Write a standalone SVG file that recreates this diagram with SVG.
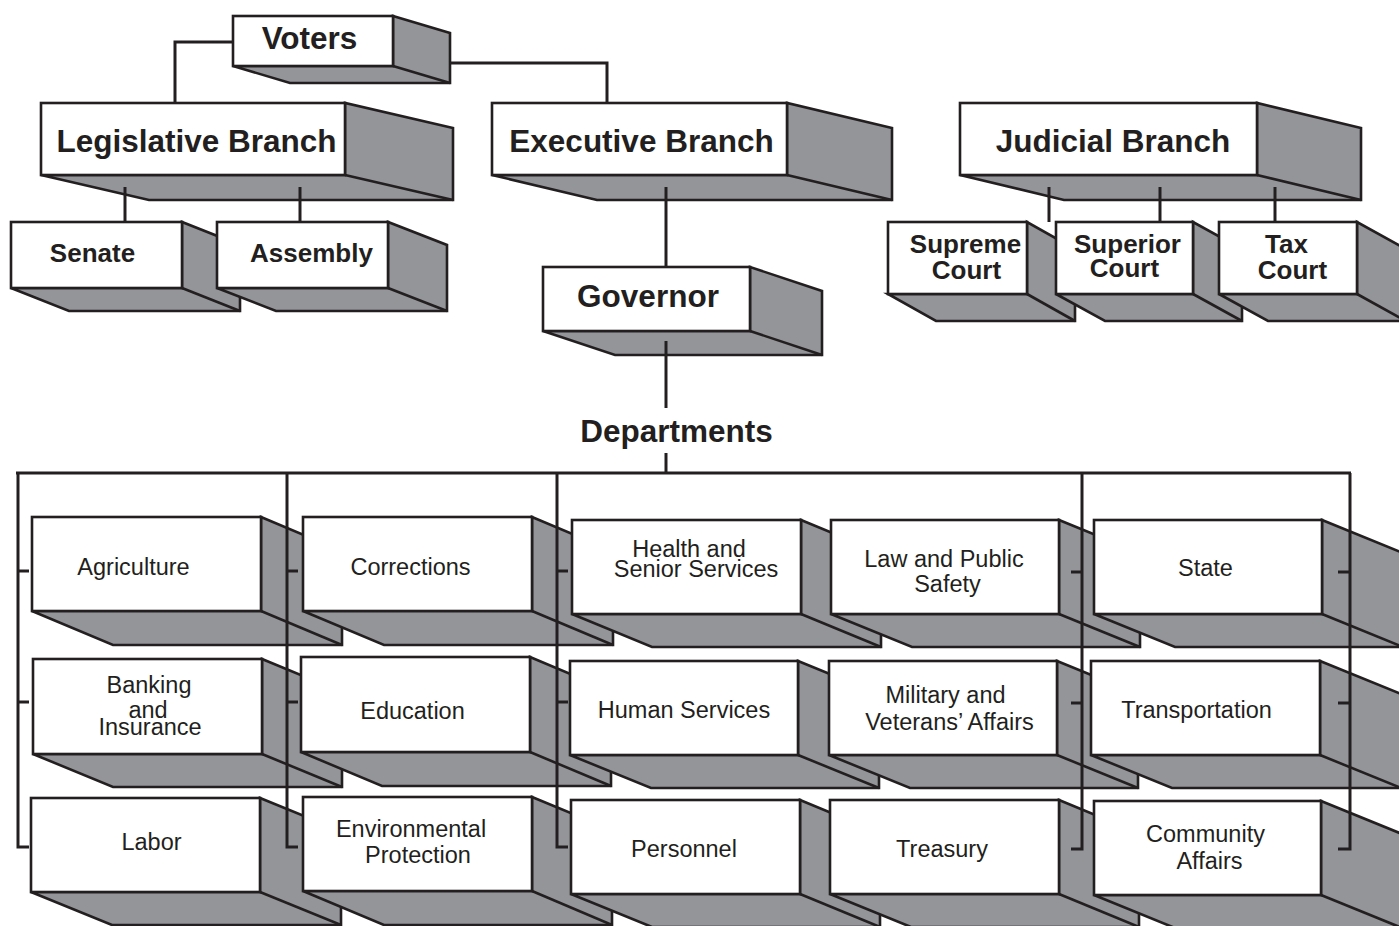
<svg xmlns="http://www.w3.org/2000/svg" width="1399" height="926" viewBox="0 0 1399 926">
<style>
.side{fill:#939598;stroke:#231f20;stroke-width:2.6;stroke-linejoin:miter}
.front{fill:#ffffff;stroke:#231f20;stroke-width:2.6}
.edge{fill:none;stroke:#231f20;stroke-width:2.6}
.tb{font-family:"Liberation Sans",Arial,sans-serif;font-weight:bold;font-size:31.5px;fill:#231f20;text-anchor:middle}
.ts{font-family:"Liberation Sans",Arial,sans-serif;font-weight:bold;font-size:26px;fill:#231f20;text-anchor:middle}
.td{font-family:"Liberation Sans",Arial,sans-serif;font-size:23.5px;fill:#231f20;text-anchor:middle}
.conn{fill:none;stroke:#231f20;stroke-width:3;stroke-linecap:butt;stroke-linejoin:miter}
</style>
<rect width="1399" height="926" fill="#ffffff"/>

<g id="voters">
<polygon class="side" points="233,66 393,66 393,16 450,33 450,83 290,83"/>
<line class="edge" x1="393" y1="66" x2="450" y2="83"/>
<rect class="front" x="233" y="16" width="160" height="50"/>
<text class="tb" x="309.5" y="49">Voters</text>
</g>

<g id="legislative">
<polygon class="side" points="41,175 345,175 345,103 453,128 453,200 149,200"/>
<line class="edge" x1="345" y1="175" x2="453" y2="200"/>
<rect class="front" x="41" y="103" width="304" height="72"/>
<text class="tb" x="196.5" y="152">Legislative Branch</text>
</g>

<g id="executive">
<polygon class="side" points="492,175 787,175 787,103 892,128 892,200 597,200"/>
<line class="edge" x1="787" y1="175" x2="892" y2="200"/>
<rect class="front" x="492" y="103" width="295" height="72"/>
<text class="tb" x="641.5" y="152">Executive Branch</text>
</g>

<g id="judicial">
<polygon class="side" points="960,175 1257,175 1257,103 1361,128 1361,200 1064,200"/>
<line class="edge" x1="1257" y1="175" x2="1361" y2="200"/>
<rect class="front" x="960" y="103" width="297" height="72"/>
<text class="tb" x="1113" y="152">Judicial Branch</text>
</g>

<g id="senate">
<polygon class="side" points="11,288 182,288 182,222 240,245 240,311 69,311"/>
<line class="edge" x1="182" y1="288" x2="240" y2="311"/>
<rect class="front" x="11" y="222" width="171" height="66"/>
<text class="ts" x="92.5" y="262">Senate</text>
</g>

<g id="assembly">
<polygon class="side" points="217,288 388,288 388,222 447,245 447,311 276,311"/>
<line class="edge" x1="388" y1="288" x2="447" y2="311"/>
<rect class="front" x="217" y="222" width="171" height="66"/>
<text class="ts" x="311.5" y="262">Assembly</text>
</g>

<g id="governor">
<polygon class="side" points="543,331 750,331 750,267 822,291 822,355 615,355"/>
<line class="edge" x1="750" y1="331" x2="822" y2="355"/>
<rect class="front" x="543" y="267" width="207" height="64"/>
<text class="tb" x="648" y="307">Governor</text>
</g>

<g id="supreme">
<polygon class="side" points="888,294 1027,294 1027,222 1075,249 1075,321 936,321"/>
<line class="edge" x1="1027" y1="294" x2="1075" y2="321"/>
<rect class="front" x="888" y="222" width="139" height="72"/>
<text class="ts" x="965.5" y="253">Supreme</text>
<text class="ts" x="966.5" y="279">Court</text>
</g>

<g id="superior">
<polygon class="side" points="1056,294 1193,294 1193,222 1242,249 1242,321 1105,321"/>
<line class="edge" x1="1193" y1="294" x2="1242" y2="321"/>
<rect class="front" x="1056" y="222" width="137" height="72"/>
<text class="ts" x="1127.5" y="253">Superior</text>
<text class="ts" x="1124.5" y="277">Court</text>
</g>

<g id="tax">
<polygon class="side" points="1219,294 1357,294 1357,222 1406,249 1406,321 1268,321"/>
<line class="edge" x1="1357" y1="294" x2="1406" y2="321"/>
<rect class="front" x="1219" y="222" width="138" height="72"/>
<text class="ts" x="1286.5" y="253">Tax</text>
<text class="ts" x="1292.5" y="279">Court</text>
</g>

<text id="departments" class="tb" x="676.5" y="442">Departments</text>

<!-- Row 1 -->
<g id="agriculture">
<polygon class="side" points="32,611 261,611 261,517 342,551 342,645 113,645"/>
<line class="edge" x1="261" y1="611" x2="342" y2="645"/>
<rect class="front" x="32" y="517" width="229" height="94"/>
<text class="td" x="133.5" y="575">Agriculture</text>
</g>
<g id="corrections">
<polygon class="side" points="303,611 532,611 532,517 613,551 613,645 384,645"/>
<line class="edge" x1="532" y1="611" x2="613" y2="645"/>
<rect class="front" x="303" y="517" width="229" height="94"/>
<text class="td" x="410.5" y="575">Corrections</text>
</g>
<g id="health">
<polygon class="side" points="572,614 801,614 801,520 881,553 881,647 652,647"/>
<line class="edge" x1="801" y1="614" x2="881" y2="647"/>
<rect class="front" x="572" y="520" width="229" height="94"/>
<text class="td" x="689" y="557">Health and</text>
<text class="td" x="696" y="577">Senior Services</text>
</g>
<g id="law">
<polygon class="side" points="831,614 1059,614 1059,520 1140,553 1140,647 912,647"/>
<line class="edge" x1="1059" y1="614" x2="1140" y2="647"/>
<rect class="front" x="831" y="520" width="228" height="94"/>
<text class="td" x="944" y="567">Law and Public</text>
<text class="td" x="947.5" y="592">Safety</text>
</g>
<g id="state">
<polygon class="side" points="1094,614 1322,614 1322,520 1403,553 1403,647 1175,647"/>
<line class="edge" x1="1322" y1="614" x2="1403" y2="647"/>
<rect class="front" x="1094" y="520" width="228" height="94"/>
<text class="td" x="1205.5" y="576">State</text>
</g>

<!-- Row 2 -->
<g id="banking">
<polygon class="side" points="33,754 262,754 262,659 342,692 342,787 113,787"/>
<line class="edge" x1="262" y1="754" x2="342" y2="787"/>
<rect class="front" x="33" y="659" width="229" height="95"/>
<text class="td" x="149" y="693">Banking</text>
<text class="td" x="148" y="718">and</text>
<text class="td" x="150" y="735">Insurance</text>
</g>
<g id="education">
<polygon class="side" points="301,752 530,752 530,657 611,691 611,786 382,786"/>
<line class="edge" x1="530" y1="752" x2="611" y2="786"/>
<rect class="front" x="301" y="657" width="229" height="95"/>
<text class="td" x="412.5" y="719">Education</text>
</g>
<g id="human">
<polygon class="side" points="570,755 798,755 798,661 879,694 879,788 651,788"/>
<line class="edge" x1="798" y1="755" x2="879" y2="788"/>
<rect class="front" x="570" y="661" width="228" height="94"/>
<text class="td" x="684" y="718">Human Services</text>
</g>
<g id="military">
<polygon class="side" points="829,755 1057,755 1057,661 1138,694 1138,788 910,788"/>
<line class="edge" x1="1057" y1="755" x2="1138" y2="788"/>
<rect class="front" x="829" y="661" width="228" height="94"/>
<text class="td" x="945.5" y="703">Military and</text>
<text class="td" x="949.5" y="730">Veterans’ Affairs</text>
</g>
<g id="transportation">
<polygon class="side" points="1091,755 1320,755 1320,661 1401,694 1401,788 1172,788"/>
<line class="edge" x1="1320" y1="755" x2="1401" y2="788"/>
<rect class="front" x="1091" y="661" width="229" height="94"/>
<text class="td" x="1196.5" y="718">Transportation</text>
</g>

<!-- Row 3 -->
<g id="labor">
<polygon class="side" points="31,892 260,892 260,798 341,831 341,925 112,925"/>
<line class="edge" x1="260" y1="892" x2="341" y2="925"/>
<rect class="front" x="31" y="798" width="229" height="94"/>
<text class="td" x="151.5" y="850">Labor</text>
</g>
<g id="environmental">
<polygon class="side" points="303,891 532,891 532,797 612,830 612,925 384,925"/>
<line class="edge" x1="532" y1="891" x2="612" y2="925"/>
<rect class="front" x="303" y="797" width="229" height="94"/>
<text class="td" x="411" y="837">Environmental</text>
<text class="td" x="418" y="863">Protection</text>
</g>
<g id="personnel">
<polygon class="side" points="571,894 800,894 800,800 880,833 880,927 652,927"/>
<line class="edge" x1="800" y1="894" x2="880" y2="927"/>
<rect class="front" x="571" y="800" width="229" height="94"/>
<text class="td" x="684" y="857">Personnel</text>
</g>
<g id="treasury">
<polygon class="side" points="830,894 1059,894 1059,800 1139,833 1139,927 911,927"/>
<line class="edge" x1="1059" y1="894" x2="1139" y2="927"/>
<rect class="front" x="830" y="800" width="229" height="94"/>
<text class="td" x="942" y="857">Treasury</text>
</g>
<g id="community">
<polygon class="side" points="1094,895 1321,895 1321,801 1402,834 1402,928 1175,928"/>
<line class="edge" x1="1321" y1="895" x2="1402" y2="928"/>
<rect class="front" x="1094" y="801" width="227" height="94"/>
<text class="td" x="1205.5" y="842">Community</text>
<text class="td" x="1209.5" y="869">Affairs</text>
</g>

<g id="connectors">
<polyline class="conn" points="233,42 175,42 175,103"/>
<polyline class="conn" points="450,63 607,63 607,103"/>
<line class="conn" x1="125" y1="187" x2="125" y2="222"/>
<line class="conn" x1="300" y1="187" x2="300" y2="222"/>
<line class="conn" x1="666" y1="187" x2="666" y2="267"/>
<line class="conn" x1="666" y1="341" x2="666" y2="408"/>
<line class="conn" x1="666" y1="453" x2="666" y2="473"/>
<line class="conn" x1="1049" y1="187" x2="1049" y2="222"/>
<line class="conn" x1="1160" y1="187" x2="1160" y2="222"/>
<line class="conn" x1="1275" y1="187" x2="1275" y2="222"/>
<line class="conn" x1="16" y1="473" x2="1351" y2="473"/>
<polyline class="conn" points="18,473 18,847 29,847"/>
<line class="conn" x1="18" y1="571" x2="29" y2="571"/>
<line class="conn" x1="18" y1="702" x2="29" y2="702"/>
<polyline class="conn" points="287,473 287,847 298,847"/>
<line class="conn" x1="287" y1="571" x2="298" y2="571"/>
<line class="conn" x1="287" y1="702" x2="298" y2="702"/>
<polyline class="conn" points="557,473 557,847 568,847"/>
<line class="conn" x1="557" y1="571" x2="568" y2="571"/>
<line class="conn" x1="557" y1="702" x2="568" y2="702"/>
<polyline class="conn" points="1082,473 1082,849 1071,849"/>
<line class="conn" x1="1082" y1="572" x2="1071" y2="572"/>
<line class="conn" x1="1082" y1="703" x2="1071" y2="703"/>
<polyline class="conn" points="1350,473 1350,849 1338,849"/>
<line class="conn" x1="1350" y1="572" x2="1338" y2="572"/>
<line class="conn" x1="1350" y1="703" x2="1338" y2="703"/>
</g>
</svg>
